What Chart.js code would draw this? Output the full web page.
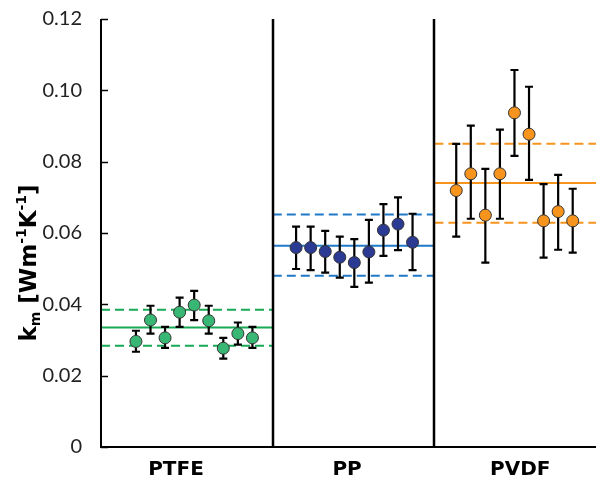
<!DOCTYPE html>
<html>
<head>
<meta charset="utf-8">
<script src="https://cdn.jsdelivr.net/npm/chart.js@4"></script>
<style>
  html, body { margin: 0; padding: 0; background: #fff; }
  #wrap { width: 596px; height: 479px; }
</style>
</head>
<body>
<div id="wrap"><canvas id="kmChart" width="596" height="479"></canvas></div>
<script>
/* ================= DATA ================= */
const groups = ["PTFE", "PP", "PVDF"];
const groupEdges = [0, 11.8, 22.9, 34];        // panel borders, in slot units
const firstSlot = [2.4, 13.4, 24.4];           // slot of first sample in each panel
const labelSlots = [5.15, 16.9, 28.8];

const ptfeVals = [0.0296, 0.0356, 0.0306, 0.0378, 0.0398, 0.0354, 0.0277, 0.0318, 0.0306];
const ptfeHigh = [0.0326, 0.0396, 0.0337, 0.0419, 0.0438, 0.0396, 0.0306, 0.0349, 0.0337];
const ptfeLow  = [0.0267, 0.0318, 0.0278, 0.0337, 0.0356, 0.0318, 0.0248, 0.0287, 0.0278];

const ppVals = [0.0559, 0.0559, 0.0548, 0.0532, 0.0517, 0.0547, 0.0608, 0.0625, 0.0574];
const ppHigh = [0.0618, 0.0618, 0.0606, 0.0590, 0.0583, 0.0637, 0.0681, 0.0700, 0.0654];
const ppLow  = [0.0499, 0.0496, 0.0489, 0.0475, 0.0449, 0.0461, 0.0536, 0.0552, 0.0496];

const pvdfVals = [0.0719, 0.0766, 0.0650, 0.0766, 0.0937, 0.0877, 0.0634, 0.0660, 0.0634];
const pvdfHigh = [0.0850, 0.0901, 0.0780, 0.0890, 0.1057, 0.1010, 0.0737, 0.0763, 0.0724];
const pvdfLow  = [0.0590, 0.0640, 0.0517, 0.0640, 0.0816, 0.0749, 0.0531, 0.0553, 0.0545];

const means    = [0.0335, 0.0564, 0.0740];
const bandHigh = [0.0385, 0.0652, 0.0850];
const bandLow  = [0.0284, 0.0480, 0.0629];

const yTicks = [0, 0.02, 0.04, 0.06, 0.08, 0.10, 0.12];

/* ================= STYLE ================= */
const markerColors = ["#38b774", "#2b3a92", "#f7941e"];
const lineColors   = ["#17a955", "#1f78c8", "#f7941e"];
const FONT = "Lato, 'Open Sans', sans-serif";
const BOLD_FONT = "'DejaVu Sans', Verdana, sans-serif";

const seriesVals = [ptfeVals, ppVals, pvdfVals];
const seriesHigh = [ptfeHigh, ppHigh, pvdfHigh];
const seriesLow  = [ptfeLow, ppLow, pvdfLow];

/* ================= DATASETS ================= */
const datasets = [];

groups.forEach((g, gi) => {
  const x0 = groupEdges[gi];
  const x1 = groupEdges[gi + 1];
  const lines = [
    { y: means[gi], dash: [] },
    { y: bandHigh[gi], dash: [9, 5] },
    { y: bandLow[gi], dash: [9, 5] },
  ];
  lines.forEach((l) => {
    datasets.push({
      type: "line",
      data: [{ x: x0, y: l.y }, { x: x1, y: l.y }],
      borderColor: lineColors[gi],
      borderWidth: 2,
      borderDash: l.dash,
      pointRadius: 0,
      pointHoverRadius: 0,
      order: 5,
    });
  });
});

groups.forEach((g, gi) => {
  datasets.push({
    type: "scatter",
    label: g,
    data: seriesVals[gi].map((v, i) => ({ x: firstSlot[gi] + i, y: v })),
    errHigh: seriesHigh[gi],
    errLow: seriesLow[gi],
    backgroundColor: markerColors[gi],
    borderColor: "#333",
    borderWidth: 1,
    pointRadius: 6,
    pointHoverRadius: 6,
    order: 1,
  });
});

/* ================= PLUGINS ================= */
const errorBars = {
  id: "errorBars",
  beforeDatasetDraw(chart, args) {
    const ds = chart.data.datasets[args.index];
    if (!ds.errHigh) return;
    const { ctx, scales: { x, y } } = chart;
    ctx.save();
    ctx.strokeStyle = "#000";
    ctx.lineWidth = 2.2;
    ds.data.forEach((p, i) => {
      const px = x.getPixelForValue(p.x);
      const top = y.getPixelForValue(ds.errHigh[i]);
      const bot = y.getPixelForValue(ds.errLow[i]);
      ctx.beginPath();
      ctx.moveTo(px, top);
      ctx.lineTo(px, bot);
      ctx.moveTo(px - 4, top);
      ctx.lineTo(px + 4, top);
      ctx.moveTo(px - 4, bot);
      ctx.lineTo(px + 4, bot);
      ctx.stroke();
    });
    ctx.restore();
  },
};

const frame = {
  id: "frame",
  afterDraw(chart) {
    const { ctx, chartArea: a, scales: { x, y } } = chart;
    ctx.save();
    ctx.strokeStyle = "#000";

    // panel separators
    ctx.lineWidth = 2.5;
    [groupEdges[1], groupEdges[2]].forEach((e) => {
      const px = Math.round(x.getPixelForValue(e));
      ctx.beginPath();
      ctx.moveTo(px, a.top);
      ctx.lineTo(px, a.bottom);
      ctx.stroke();
    });

    // left + bottom axis
    ctx.lineWidth = 2;
    ctx.beginPath();
    ctx.moveTo(a.left, a.top);
    ctx.lineTo(a.left, a.bottom);
    ctx.lineTo(a.right, a.bottom);
    ctx.stroke();

    // inward ticks
    ctx.lineWidth = 1.5;
    yTicks.forEach((t) => {
      const py = Math.round(y.getPixelForValue(t)) + 0.5;
      ctx.beginPath();
      ctx.moveTo(a.left, py);
      ctx.lineTo(a.left + 7, py);
      ctx.stroke();
    });

    // category labels
    ctx.fillStyle = "#000";
    ctx.font = "bold 20px " + BOLD_FONT;
    ctx.textAlign = "center";
    ctx.textBaseline = "middle";
    groups.forEach((g, gi) => {
      ctx.fillText(g, x.getPixelForValue(labelSlots[gi]), a.bottom + 23);
    });

    // y title with sub/superscripts
    ctx.textAlign = "left";
    ctx.textBaseline = "alphabetic";
    ctx.translate(28, 263);
    ctx.rotate(-Math.PI / 2);
    const big = "bold 23px " + BOLD_FONT;
    const small = "bold 14px " + BOLD_FONT;
    const parts = [
      { t: "k", f: big, dy: 0 },
      { t: "m", f: small, dy: 4 },
      { t: " [Wm", f: big, dy: 0 },
      { t: "-1", f: small, dy: -10 },
      { t: "K", f: big, dy: 0 },
      { t: "-1", f: small, dy: -10 },
      { t: "]", f: big, dy: 0 },
    ];
    let w = 0;
    parts.forEach((p) => { ctx.font = p.f; w += ctx.measureText(p.t).width; });
    let cx = -w / 2;
    parts.forEach((p) => {
      ctx.font = p.f;
      ctx.fillText(p.t, cx, 8 + p.dy);
      cx += ctx.measureText(p.t).width;
    });
    ctx.restore();
  },
};

/* ================= CHART ================= */
new Chart(document.getElementById("kmChart"), {
  data: { datasets },
  options: {
    responsive: false,
    animation: false,
    layout: { autoPadding: false, padding: { top: 19, right: 0, left: 0, bottom: 0 } },
    plugins: { legend: { display: false }, tooltip: { enabled: false } },
    scales: {
      x: {
        type: "linear",
        min: groupEdges[0],
        max: groupEdges[3],
        afterFit(scale) {
          scale.height = 32;
          scale.paddingLeft = 0;
          scale.paddingRight = 0;
        },
        ticks: { display: false },
        grid: { display: false, drawTicks: false },
        border: { display: false },
      },
      y: {
        min: 0,
        max: 0.12,
        afterBuildTicks(scale) {
          scale.ticks = yTicks.map((v) => ({ value: v }));
        },
        afterFit(scale) {
          scale.width = 101;
          scale.paddingTop = 0;
          scale.paddingBottom = 0;
        },
        ticks: {
          padding: 19,
          color: "#222",
          font: { family: FONT, size: 20 },
          callback: (v) => (v === 0 ? "0" : v.toFixed(2)),
        },
        grid: { display: false, drawTicks: false },
        border: { display: false },
      },
    },
  },
  plugins: [errorBars, frame],
});
</script>
</body>
</html>
